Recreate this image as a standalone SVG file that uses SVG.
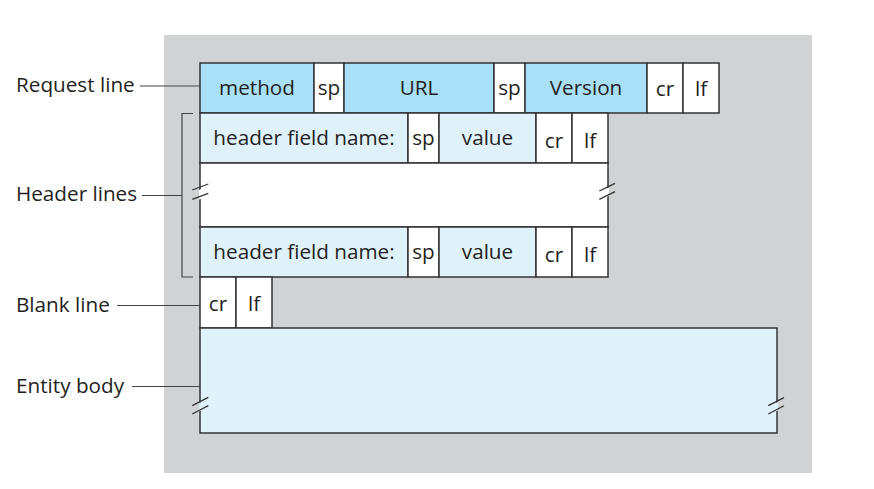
<svg xmlns="http://www.w3.org/2000/svg" width="874" height="489" viewBox="0 0 874 489">
<style>
.t{font-family:"Open Sans","Liberation Sans",sans-serif;font-size:20.7px;fill:#231f20}
.c{text-anchor:middle}
.b{stroke:#333;stroke-width:1.5}
.dk{fill:#aadff8}
.lt{fill:#dff2fa}
.wh{fill:#fff}
.ln{stroke:#444;stroke-width:1.2;fill:none}
.sl{stroke:#333;stroke-width:1.3;fill:none}
</style>
<rect x="0" y="0" width="874" height="489" fill="#fff"/>
<rect x="164" y="35" width="648" height="438" fill="#d1d2d4"/>
<g id="connectors">
<line class="ln" x1="140" y1="86" x2="200" y2="86"/>
<polyline class="ln" points="193,113.5 182,113.5 182,277 193,277"/>
<line class="ln" x1="142" y1="195.5" x2="182" y2="195.5"/>
<line class="ln" x1="117" y1="305.5" x2="200" y2="305.5"/>
<line class="ln" x1="132" y1="386.5" x2="200" y2="386.5"/>
</g>
<g id="request-line">
<rect class="b dk" x="200" y="63" width="114" height="50"/>
<rect class="b wh" x="314" y="63" width="30" height="50"/>
<rect class="b dk" x="344" y="63" width="150" height="50"/>
<rect class="b wh" x="494" y="63" width="31" height="50"/>
<rect class="b dk" x="525" y="63" width="122" height="50"/>
<rect class="b wh" x="647" y="63" width="36" height="50"/>
<rect class="b wh" x="683" y="63" width="36" height="50"/>
<text class="t c" x="257" y="94.5">method</text>
<text class="t c" x="329" y="94.5">sp</text>
<text class="t c" x="419" y="94.5">URL</text>
<text class="t c" x="509.5" y="94.5">sp</text>
<text class="t c" x="586" y="94.5">Version</text>
<text class="t c" x="665" y="96">cr</text>
<text class="t c" x="701" y="96">lf</text>
</g>
<g id="header-line-1">
<rect class="b lt" x="200" y="113" width="208" height="50"/>
<rect class="b wh" x="408" y="113" width="31" height="50"/>
<rect class="b lt" x="439" y="113" width="97" height="50"/>
<rect class="b wh" x="536" y="113" width="36" height="50"/>
<rect class="b wh" x="572" y="113" width="36" height="50"/>
<text class="t c" x="304" y="145">header field name:</text>
<text class="t c" x="423.5" y="145">sp</text>
<text class="t c" x="487.5" y="145">value</text>
<text class="t c" x="554" y="148">cr</text>
<text class="t c" x="590" y="148">lf</text>
</g>
<g id="header-gap">
<rect class="b wh" x="200" y="163" width="408" height="64"/>
<polygon points="199,190 201.5,189 201.5,198.5 199,199.5" fill="#fff"/>
<line class="sl" x1="192.3" y1="190" x2="208.3" y2="184"/>
<line class="sl" x1="192.3" y1="199.3" x2="208.3" y2="193.3"/>
<polygon points="606.5,188.5 609,187.5 609,196 606.5,197" fill="#fff"/>
<line class="sl" x1="599.3" y1="191" x2="615" y2="183.3"/>
<line class="sl" x1="599.3" y1="199.3" x2="615" y2="191.7"/>
</g>
<g id="header-line-2">
<rect class="b lt" x="200" y="227" width="208" height="50"/>
<rect class="b wh" x="408" y="227" width="31" height="50"/>
<rect class="b lt" x="439" y="227" width="97" height="50"/>
<rect class="b wh" x="536" y="227" width="36" height="50"/>
<rect class="b wh" x="572" y="227" width="36" height="50"/>
<text class="t c" x="304" y="259">header field name:</text>
<text class="t c" x="423.5" y="259">sp</text>
<text class="t c" x="487.5" y="259">value</text>
<text class="t c" x="554" y="262">cr</text>
<text class="t c" x="590" y="262">lf</text>
</g>
<g id="blank-line">
<rect class="b wh" x="200" y="277" width="36" height="51"/>
<rect class="b wh" x="236" y="277" width="36" height="51"/>
<text class="t c" x="218" y="311">cr</text>
<text class="t c" x="254" y="311">lf</text>
</g>
<g id="entity-body">
<rect class="b lt" x="200" y="328" width="577" height="105"/>
<polygon points="199,403 201.5,402 201.5,410.5 199,411.5" fill="#dff2fa"/>
<line class="sl" x1="192.3" y1="405.7" x2="208.3" y2="397.3"/>
<line class="sl" x1="192.3" y1="414" x2="208.3" y2="405.7"/>
<polygon points="775.5,403 778,402 778,410.5 775.5,411.5" fill="#dff2fa"/>
<line class="sl" x1="768.3" y1="405.7" x2="784" y2="397.7"/>
<line class="sl" x1="768.3" y1="414" x2="784" y2="405.7"/>
</g>
<g id="labels">
<text class="t" x="16" y="91.5">Request line</text>
<text class="t" x="16" y="201">Header lines</text>
<text class="t" x="16" y="311.5">Blank line</text>
<text class="t" x="16" y="392.5">Entity body</text>
</g>
</svg>
